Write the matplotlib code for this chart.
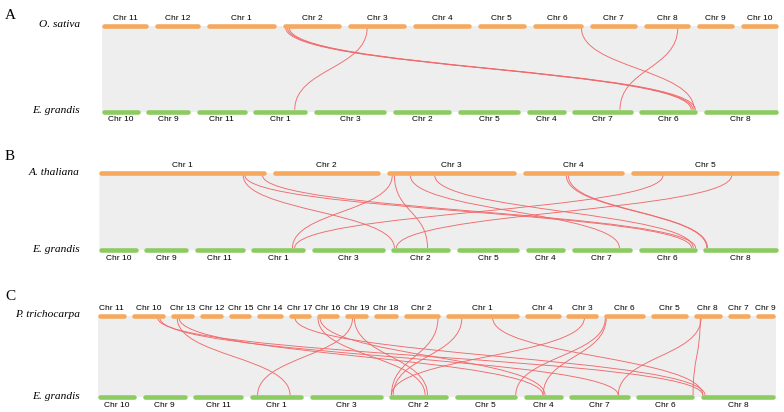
import numpy as np
import matplotlib
matplotlib.use("Agg")
import matplotlib.pyplot as plt
from matplotlib.path import Path
from matplotlib.patches import PathPatch, Polygon

# chromosome names and lengths (arbitrary units)
eg_names = ["Chr 10", "Chr 9", "Chr 11", "Chr 1", "Chr 3", "Chr 2", "Chr 5", "Chr 4", "Chr 7", "Chr 6", "Chr 8"]
eg_len = [38.3, 44.3, 50.0, 54.0, 72.7, 59.0, 62.4, 39.4, 60.6, 58.0, 75.0]

os_names = ["Chr 11", "Chr 12", "Chr 1", "Chr 2", "Chr 3", "Chr 4", "Chr 5", "Chr 6", "Chr 7", "Chr 8", "Chr 9", "Chr 10"]
os_len = [29.0, 27.5, 43.0, 36.0, 36.4, 35.5, 30.0, 31.0, 29.7, 28.4, 23.0, 23.2]

at_names = ["Chr 1", "Chr 2", "Chr 3", "Chr 4", "Chr 5"]
at_len = [30.4, 19.7, 23.5, 18.6, 27.0]

pt_names = ["Chr 11", "Chr 10", "Chr 13", "Chr 12", "Chr 15", "Chr 14", "Chr 17", "Chr 16", "Chr 19", "Chr 18",
            "Chr 2", "Chr 1", "Chr 4", "Chr 3", "Chr 6", "Chr 5", "Chr 8", "Chr 7", "Chr 9"]
pt_len = [19.5, 23.4, 16.1, 16.1, 15.6, 17.9, 15.4, 15.6, 16.1, 16.6,
          25.3, 50.5, 24.8, 22.3, 28.3, 25.5, 19.6, 15.6, 13.8]

# syntenic pairs: (top chr, fraction along it, E. grandis chr, fraction along it)
links_a = [
    ("Chr 2", 0.05, "Chr 6", 0.90),
    ("Chr 2", 0.08, "Chr 6", 0.93),
    ("Chr 2", 0.11, "Chr 6", 0.97),
    ("Chr 3", 0.33, "Chr 1", 0.77),
    ("Chr 6", 0.97, "Chr 6", 0.95),
    ("Chr 8", 0.73, "Chr 7", 0.79),
]
links_b = [
    ("Chr 1", 0.864, "Chr 2", 0.056),
    ("Chr 1", 0.874, "Chr 6", 0.91),
    ("Chr 1", 0.98, "Chr 6", 0.98),
    ("Chr 3", 0.04, "Chr 1", 0.76),
    ("Chr 3", 0.057, "Chr 2", 0.615),
    ("Chr 3", 0.18, "Chr 7", 0.79),
    ("Chr 3", 0.37, "Chr 6", 0.94),
    ("Chr 4", 0.43, "Chr 8", 0.05),
    ("Chr 4", 0.45, "Chr 8", 0.06),
    ("Chr 5", 0.216, "Chr 1", 0.80),
    ("Chr 5", 0.68, "Chr 2", 0.09),
]
links_c = [
    ("Chr 10", 0.77, "Chr 8", 0.03),
    ("Chr 10", 0.83, "Chr 7", 0.81),
    ("Chr 13", 0.26, "Chr 1", 0.75),
    ("Chr 13", 0.34, "Chr 4", 0.50),
    ("Chr 17", 0.28, "Chr 8", 0.06),
    ("Chr 16", 0.06, "Chr 2", 0.61),
    ("Chr 16", 0.15, "Chr 4", 0.55),
    ("Chr 19", 0.33, "Chr 1", 0.15),
    ("Chr 19", 0.41, "Chr 2", 0.65),
    ("Chr 2", 0.94, "Chr 2", 0.04),
    ("Chr 1", 0.22, "Chr 2", 0.07),
    ("Chr 1", 0.64, "Chr 8", 0.03),
    ("Chr 3", 0.56, "Chr 2", 0.04),
    ("Chr 6", 0.03, "Chr 5", 0.98),
    ("Chr 6", 0.05, "Chr 4", 0.50),
    ("Chr 8", 0.24, "Chr 6", 0.98),
    ("Chr 8", 0.27, "Chr 7", 0.81),
]

panels = [
    # letter, species, names, lengths, links, y top, y bottom, top span, bottom span, top gap, letter y
    ("A", "O. sativa", os_names, os_len, links_a, 25.5, 111.8, (101.7, 778.3), (101.7, 778.3), 6.6, 15),
    ("B", "A. thaliana", at_names, at_len, links_b, 173.3, 250.0, (99.3, 779.0), (99.3, 778.3), 6.6, 156),
    ("C", "P. trichocarpa", pt_names, pt_len, links_c, 315.8, 397.3, (97.7, 775.7), (97.7, 775.7), 5.5, 296),
]

orange = "#F5A95E"
green = "#8CCB62"
red = "#F06A6C"
bar_w = 3.3


def layout(lengths, span, gap):
    lengths = np.array(lengths, dtype=float)
    scale = (span[1] - span[0] - gap * (len(lengths) - 1)) / lengths.sum()
    starts = span[0] + np.concatenate([[0], np.cumsum(lengths[:-1] * scale + gap)])
    return starts, starts + lengths * scale


fig = plt.figure(figsize=(7.84, 4.12), dpi=100)
ax = fig.add_axes([0, 0, 1, 1])
ax.set_xlim(0, 784)
ax.set_ylim(412, 0)
ax.axis("off")

for letter, species, names, lens, links, yt, yb, span_t, span_b, gap_t, ylet in panels:
    ts, te = layout(lens, span_t, gap_t)
    bs, be = layout(eg_len, span_b, 6.3)

    # grey background of collinear blocks
    ax.add_patch(Polygon([(ts[0], yt), (te[-1], yt), (be[-1], yb), (bs[0], yb)],
                         closed=True, fc="#EEEEEE", ec="none", zorder=1))

    tpos = dict(zip(names, zip(ts, te)))
    bpos = dict(zip(eg_names, zip(bs, be)))
    ym = (yt + yb) / 2
    for c1, f1, c2, f2 in links:
        x1 = tpos[c1][0] + f1 * (tpos[c1][1] - tpos[c1][0])
        x2 = bpos[c2][0] + f2 * (bpos[c2][1] - bpos[c2][0])
        p = Path([(x1, yt + 2), (x1, ym), (x2, ym), (x2, yb - 2)],
                 [Path.MOVETO, Path.CURVE4, Path.CURVE4, Path.CURVE4])
        ax.add_patch(PathPatch(p, fc="none", ec=red, lw=0.65, zorder=3))

    r = 2.2
    for n, s, e in zip(names, ts, te):
        ax.plot([s + r, e - r], [yt, yt], color=orange, lw=bar_w, solid_capstyle="round", zorder=4)
        ax.text((s + e) / 2, yt - 7.5, n, ha="center", va="center", fontsize=6, family="Liberation Sans")
    for n, s, e in zip(eg_names, bs, be):
        ax.plot([s + r, e - r], [yb, yb], color=green, lw=bar_w, solid_capstyle="round", zorder=4)
        ax.text((s + e) / 2, yb + 8, n, ha="center", va="center", fontsize=6, family="Liberation Sans")

    ax.text(80, yt - 1, species, ha="right", va="center", fontsize=8.2, style="italic", family="Liberation Serif")
    ax.text(80, yb - 1, "E. grandis", ha="right", va="center", fontsize=8.2, style="italic", family="Liberation Serif")
    ax.text(5, ylet, letter, ha="left", va="center", fontsize=11, family="Liberation Serif")

fig.savefig("out.png", dpi=100)
